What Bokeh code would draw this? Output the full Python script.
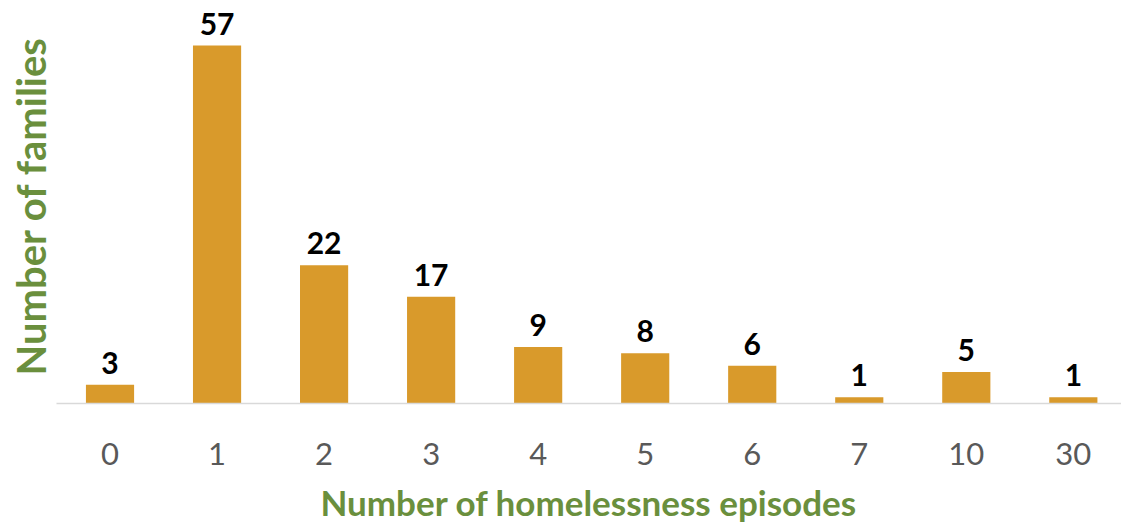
import numpy as np
from bokeh.plotting import figure
from bokeh.models import Range1d, FixedTicker, ColumnDataSource
from bokeh.core.properties import value
from bokeh.embed import file_html
from bokeh.resources import INLINE

categories = ["0", "1", "2", "3", "4", "5", "6", "7", "10", "30"]
families = [3, 57, 22, 17, 9, 8, 6, 1, 5, 1]

xs = list(range(len(categories)))
src = ColumnDataSource(dict(x=xs, y=families, label=[str(v) for v in families]))

p = figure(width=1121, height=525, output_backend="svg", toolbar_location=None,
           x_range=Range1d(-0.5, 9.45), y_range=Range1d(0, 62.9),
           min_border_left=56, min_border_right=0, min_border_top=8, min_border_bottom=122)
p.outline_line_color = None
p.grid.visible = False
p.background_fill_color = "white"

p.vbar(x="x", top="y", width=0.45, source=src, color="#D99A2B", line_color=None)
p.text(x="x", y="y", text="label", source=src, text_align="center", text_baseline="bottom",
       y_offset=-11, text_font=value("Lato"), text_font_style="bold", text_font_size="30px",
       text_color="black")

xa = p.xaxis[0]
xa.ticker = FixedTicker(ticks=xs)
xa.major_label_overrides = {i: c for i, c in enumerate(categories)}
xa.major_tick_line_color = None
xa.minor_tick_line_color = None
xa.axis_line_color = "#D9D9D9"
xa.axis_line_width = 1.5
xa.major_label_text_font = "Lato"
xa.major_label_text_font_size = "31px"
xa.major_label_text_color = "#595959"
xa.major_label_standoff = 33
xa.axis_label = "Number of homelessness episodes"
xa.axis_label_text_font = "Lato"
xa.axis_label_text_font_style = "bold"
xa.axis_label_text_font_size = "35px"
xa.axis_label_text_color = "#6A8F3D"
xa.axis_label_standoff = 13

ya = p.yaxis[0]
ya.ticker = FixedTicker(ticks=[])
ya.major_tick_line_color = None
ya.minor_tick_line_color = None
ya.axis_line_color = None
ya.major_label_standoff = 0
ya.axis_label = "Number of families"
ya.axis_label_text_font = "Lato"
ya.axis_label_text_font_style = "bold"
ya.axis_label_text_font_size = "40px"
ya.axis_label_text_color = "#6A8F3D"
ya.axis_label_standoff = 2

open("out.html", "w").write(file_html(p, INLINE))
